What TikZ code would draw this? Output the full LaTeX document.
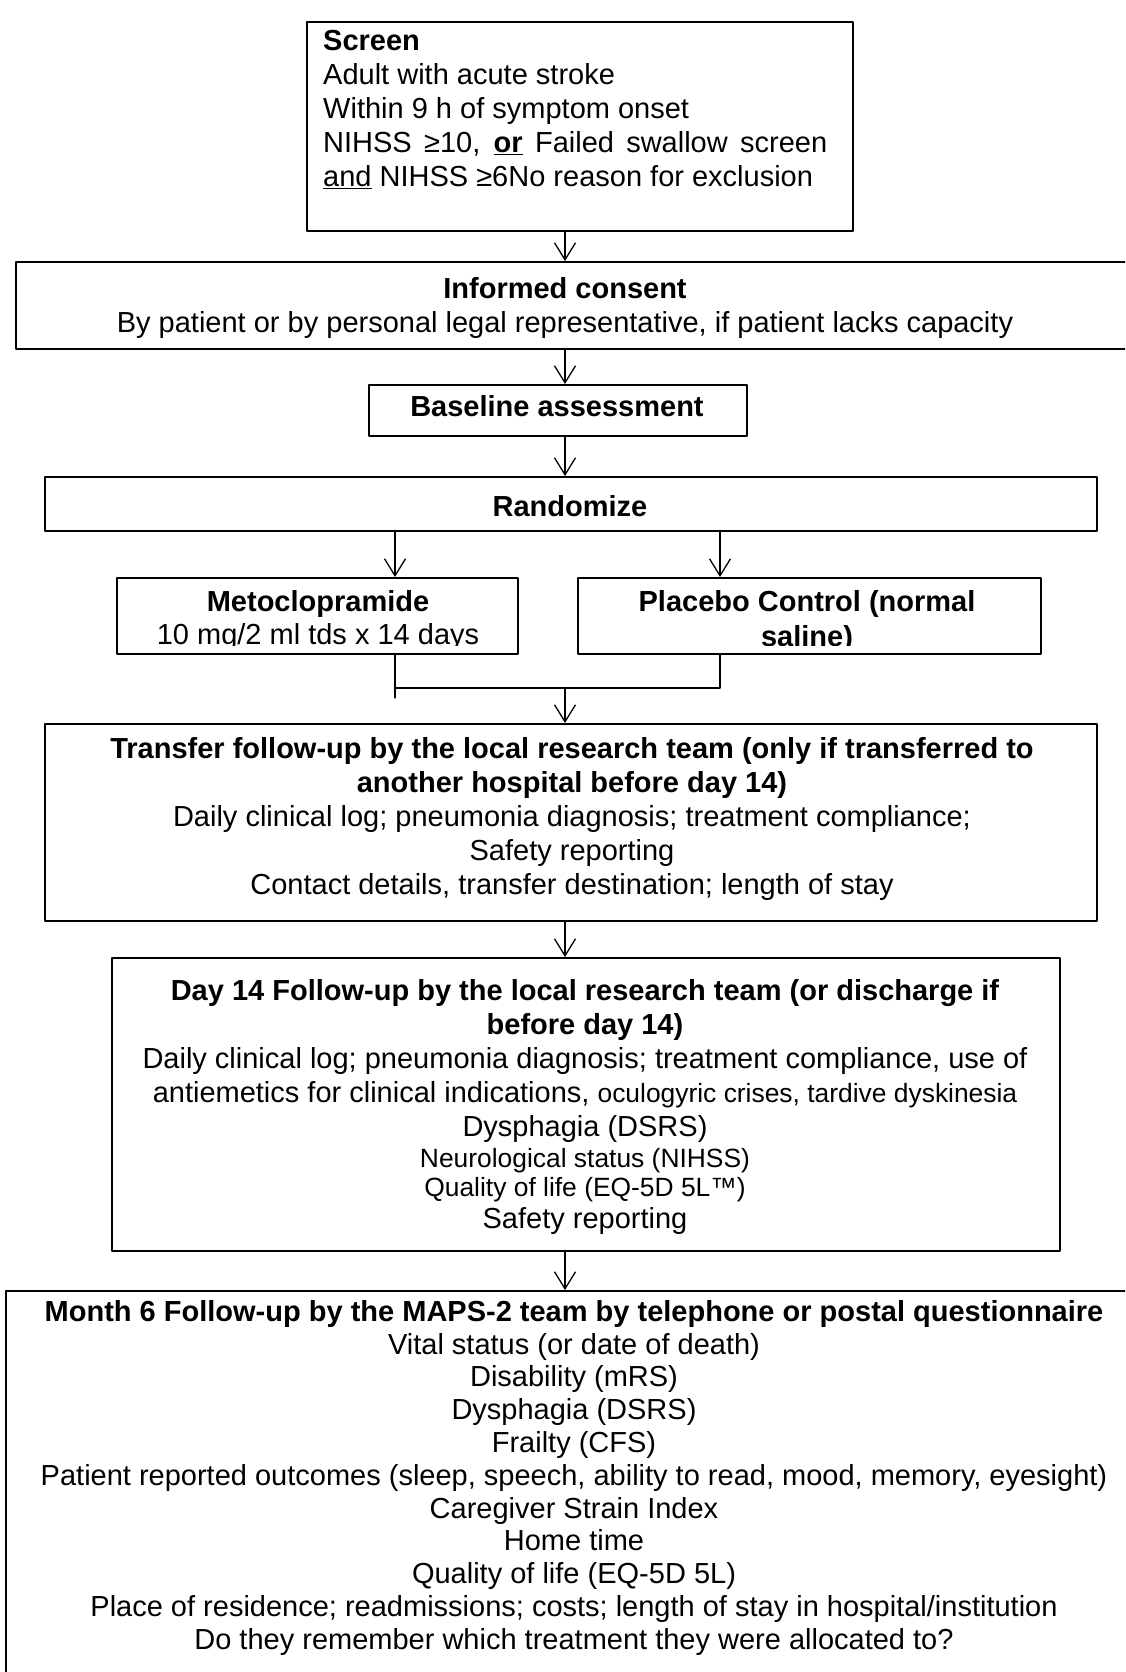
\documentclass[tikz,border=0pt]{standalone}
\usepackage{fontspec}
\setmainfont{Liberation Sans}
\usetikzlibrary{arrows.meta}
\newcommand{\tenpt}{\fontsize{26.4}{31}\selectfont}

\begin{document}
\begin{tikzpicture}[line cap=round,line join=round,>={Straight Barb[length=17pt,width=21pt]},x=1pt,y=-1pt,font=\fontsize{29}{34}\selectfont,
	box/.style={draw,line width=2pt,inner sep=0pt,anchor=north west},
	txt/.style={inner sep=0pt,anchor=north,align=center},
	flow/.style={->,line width=1.3pt}]
	\useasboundingbox (0,0) rectangle (1125,1672);
	\clip(0,0) rectangle (1125,1672);
	\coordinate (spine) at (565,0);
	\coordinate (lcol) at (395,0);
	\coordinate (rcol) at (720,0);
	\coordinate (bar) at (0,688);
	\coordinate (tail) at (0,698);
	\node[box,minimum width=546pt,minimum height=209pt] (screen) at (306,21) {};
	\node[box,minimum width=1120pt,minimum height=87pt] (consent) at (15,261) {};
	\node[box,minimum width=378pt,minimum height=51pt] (baseline) at (368,384) {};
	\node[box,minimum width=1052pt,minimum height=54pt] (randomize) at (44,476) {};
	\node[box,minimum width=401pt,minimum height=76pt] (meto) at (116,577) {};
	\node[box,minimum width=463pt,minimum height=76pt] (placebo) at (577,577) {};
	\node[box,minimum width=1052pt,minimum height=197pt] (transfer) at (44,723) {};
	\node[box,minimum width=948pt,minimum height=293pt] (dayfourteen) at (111,957) {};
	\node[box,minimum width=1138pt,minimum height=420pt] (monthsix) at (5,1290) {};
	\draw [flow] (screen.south -| spine) -- (consent.north -| spine);
	\draw [flow] (consent.south -| spine) -- (baseline.north -| spine);
	\draw [flow] (baseline.south -| spine) -- (randomize.north -| spine);
	\draw [flow] (randomize.south -| lcol) -- (meto.north -| lcol);
	\draw [flow] (randomize.south -| rcol) -- (placebo.north -| rcol);
	\draw [line width=1.3pt] (meto.south -| lcol) -- (lcol |- tail);
	\draw [line width=1.3pt] (placebo.south -| rcol) -- (rcol |- bar) -- (lcol |- bar);
	\draw [flow] (spine |- bar) -- (transfer.north -| spine);
	\draw [flow] (transfer.south -| spine) -- (dayfourteen.north -| spine);
	\draw [flow] (dayfourteen.south -| spine) -- (monthsix.north -| spine);
	\node[txt,anchor=north west,align=left] (screentxt) at (323,30) {\textbf{Screen}\\Adult with acute stroke\\Within 9 h of symptom onset\\\makebox[504pt][s]{NIHSS ≥10, \underline{\textbf{or}} Failed swallow screen}\\\underline{and} NIHSS ≥6No reason for exclusion};
	\node[txt] (consenttxt) at (565,277.5) {\textbf{Informed consent}\\By patient or by personal legal representative, if patient lacks capacity};
	\node[txt] (basetxt) at (557,395) {\textbf{Baseline assessment}};
	\node[txt] (randtxt) at (570,495) {\textbf{Randomize}};
	\begin{scope}
	\clip (meto.north west) rectangle ([yshift=10pt]placebo.south east);
	\node[txt] (metotxt) at (318,590) {\textbf{Metoclopramide}\\[-1pt]10 mg/2 ml tds x 14 days};
	\node[txt] (placebotxt) at (807,590) {\textbf{Placebo Control (normal}\\[1pt]\textbf{saline)}};
	\end{scope}
	\node[txt] (transfertxt) at (572,737) {\textbf{Transfer follow-up by the local research team (only if transferred to}\\\textbf{another hospital before day 14)}\\Daily clinical log; pneumonia diagnosis; treatment compliance;\\Safety reporting\\Contact details, transfer destination; length of stay};
	\node[txt] (dayfourteentxt) at (585,979) {\textbf{Day 14 Follow-up by the local research team (or discharge if}\\\textbf{before day 14)}\\Daily clinical log; pneumonia diagnosis; treatment compliance, use of\\antiemetics for clinical indications, {\tenpt oculogyric crises, tardive dyskinesia}\\Dysphagia (DSRS)\\[-3pt]{\tenpt Neurological status (NIHSS)}\\[-5pt]{\tenpt Quality of life (EQ-5D 5L™)}\\[-2pt]Safety reporting};
	\node[txt,font=\fontsize{29}{32.8}\selectfont] (monthsixtxt) at (574,1300) {\textbf{Month 6 Follow-up by the MAPS-2 team by telephone or postal questionnaire}\\Vital status (or date of death)\\Disability (mRS)\\Dysphagia (DSRS)\\Frailty (CFS)\\Patient reported outcomes (sleep, speech, ability to read, mood, memory, eyesight)\\Caregiver Strain Index\\Home time\\Quality of life (EQ-5D 5L)\\Place of residence; readmissions; costs; length of stay in hospital/institution\\Do they remember which treatment they were allocated to?};
\end{tikzpicture}
\end{document}
